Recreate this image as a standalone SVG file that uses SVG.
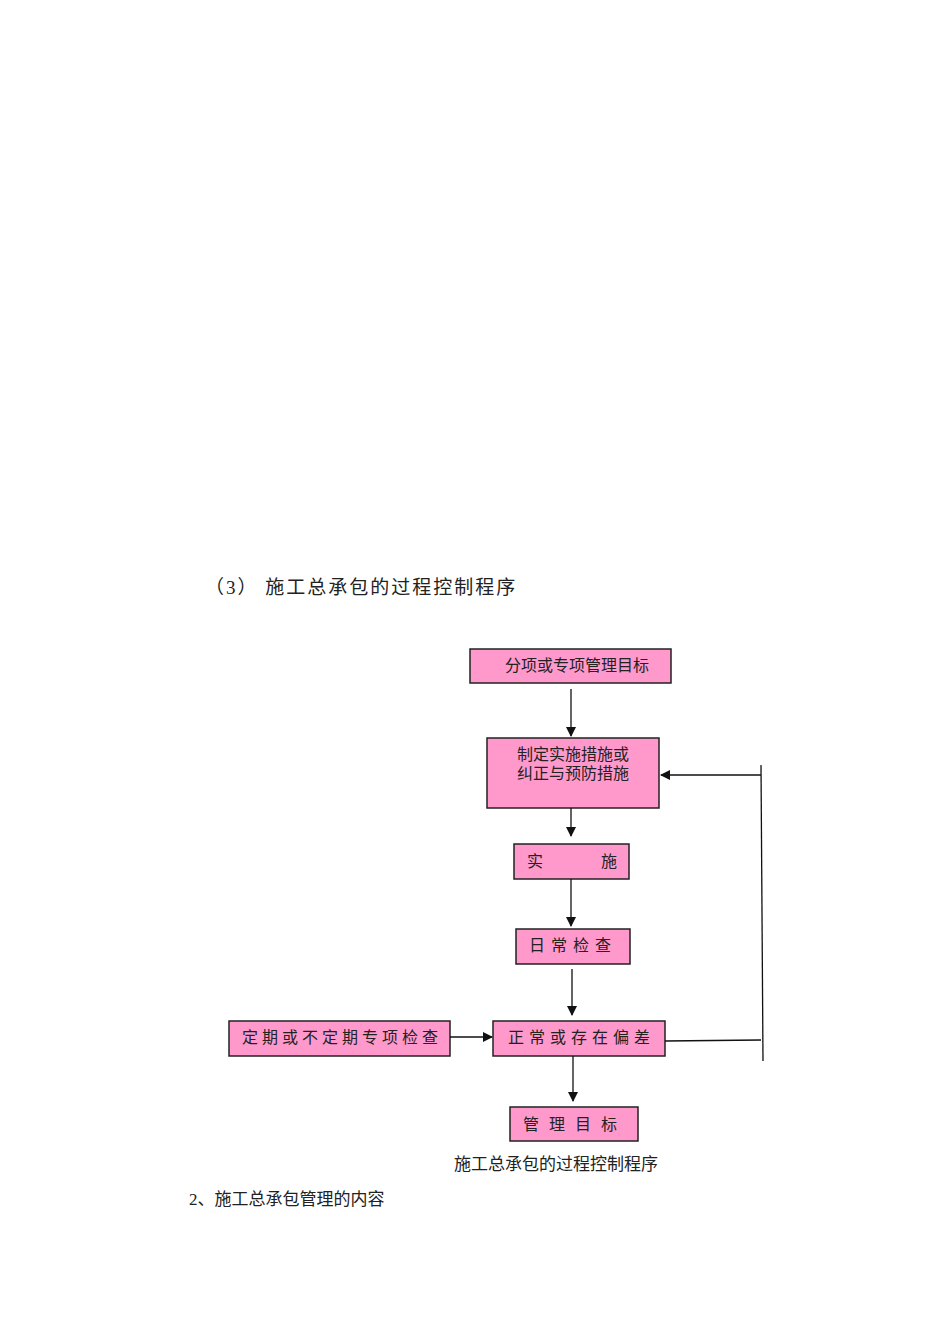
<svg xmlns="http://www.w3.org/2000/svg" width="950" height="1344" viewBox="0 0 950 1344">
<style>
.n{fill:#ff99cc;stroke:#222;stroke-width:1.5}
.t{font-family:"Liberation Serif","Noto Sans CJK SC",serif;font-size:16px;fill:#222}
.c{stroke:#111;stroke-width:1.3;fill:none}
</style>
<defs><marker id="a" markerWidth="10" markerHeight="10" refX="9" refY="5" orient="auto" markerUnits="userSpaceOnUse"><path d="M0,0L10,5L0,10z" fill="#111"/></marker></defs>
<rect width="950" height="1344" fill="#fff"/>
<text class="t" x="205" y="594" font-size="19" style="font-size:19px;letter-spacing:2px">（3） 施工总承包的过程控制程序</text>
<g id="n1"><rect class="n" x="470" y="649" width="201" height="34"/><text class="t" x="505" y="671">分项或专项管理目标</text></g>
<g id="n2"><rect class="n" x="487" y="738" width="172" height="70"/><text class="t" x="517" y="760">制定实施措施或</text><text class="t" x="517" y="779">纠正与预防措施</text></g>
<g id="n3"><rect class="n" x="514" y="844" width="115" height="35"/><text class="t" x="527" y="867">实</text><text class="t" x="601" y="867">施</text></g>
<g id="n4"><rect class="n" x="516" y="929" width="114" height="35"/><text class="t" x="529" y="951" style="letter-spacing:6px">日常检查</text></g>
<g id="n5"><rect class="n" x="493" y="1021" width="172" height="35"/><text class="t" x="508" y="1043" style="letter-spacing:5px">正常或存在偏差</text></g>
<g id="n6"><rect class="n" x="229" y="1021" width="221" height="35"/><text class="t" x="242" y="1043" style="letter-spacing:4px">定期或不定期专项检查</text></g>
<g id="n7"><rect class="n" x="510" y="1107" width="128" height="34"/><text class="t" x="523" y="1130" style="letter-spacing:10px">管理目标</text></g>
<text class="t" x="454" y="1170" style="font-size:17px">施工总承包的过程控制程序</text>
<text class="t" x="189" y="1205" style="font-size:17px">2、施工总承包管理的内容</text>
<g id="connectors">
<line class="c" x1="571" y1="689" x2="571" y2="736" marker-end="url(#a)"/>
<line class="c" x1="571" y1="808" x2="571" y2="836" marker-end="url(#a)"/>
<line class="c" x1="571" y1="879" x2="571" y2="926" marker-end="url(#a)"/>
<line class="c" x1="572" y1="969" x2="572" y2="1015" marker-end="url(#a)"/>
<line class="c" x1="450" y1="1037" x2="492" y2="1037" marker-end="url(#a)"/>
<line class="c" x1="573" y1="1056" x2="573" y2="1101" marker-end="url(#a)"/>
<polyline class="c" points="665,1041 761,1040"/>
<line class="c" x1="761" y1="765" x2="763" y2="1061"/>
<line class="c" x1="761" y1="775" x2="661" y2="775" marker-end="url(#a)"/>
</g>
</svg>
